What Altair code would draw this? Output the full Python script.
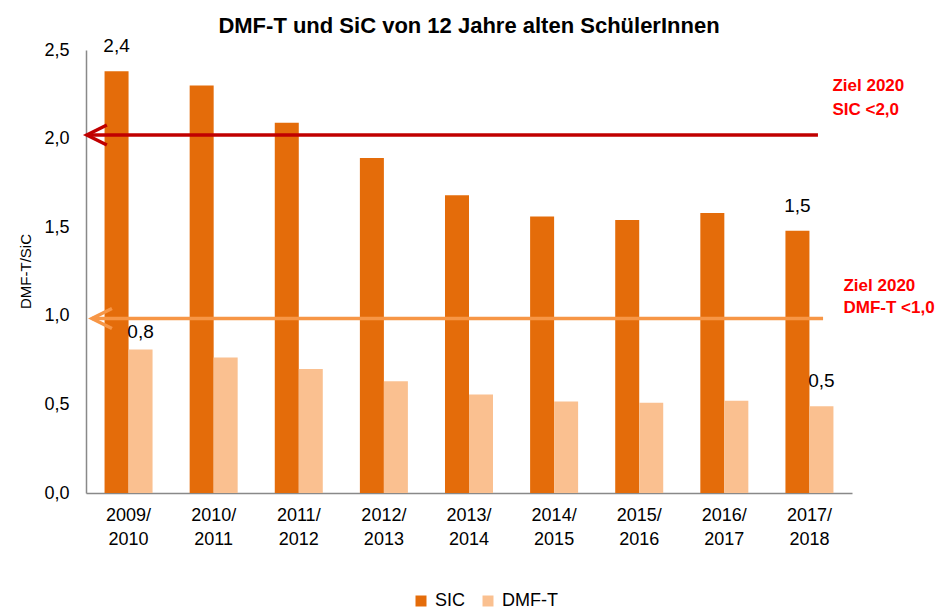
import altair as alt
import pandas as pd

years = ["2009/ 2010", "2010/ 2011", "2011/ 2012", "2012/ 2013", "2013/ 2014",
         "2014/ 2015", "2015/ 2016", "2016/ 2017", "2017/ 2018"]
sic = [2.38, 2.30, 2.09, 1.89, 1.68, 1.56, 1.54, 1.58, 1.48]
dmft = [0.81, 0.765, 0.70, 0.63, 0.556, 0.516, 0.51, 0.52, 0.49]
series_names = ["SIC", "DMF-T"]
colors = ["#E46C0A", "#FAC090"]

# value labels shown in the original
label_year = ["2009/ 2010", "2017/ 2018", "2017/ 2018"]
label_series = ["SIC", "SIC", "DMF-T"]
label_value = [2.38, 1.48, 0.49]
label_text = ["2,4", "1,5", "0,5"]
low_label_year = ["2009/ 2010"]
low_label_series = ["DMF-T"]
low_label_value = [0.81]
low_label_text = ["0,8"]

# goals (Ziel 2020)
goal_names = ["SIC", "DMF-T"]
goal_values = [2.02, 0.985]
goal_start = [0.01, 0.07]
goal_end = [8.60, 8.66]
goal_sic_text = "Ziel 2020\nSIC <2,0"
goal_dmft_text = "Ziel 2020\nDMF-T <1,0"
goal_text_x_sic = 8.77
goal_text_x_dmft = 8.90

FONT = "Liberation Sans, Arial, sans-serif"

rows = []
for y, a, b in zip(years, sic, dmft):
    rows.append({"year": y, "series": "SIC", "value": a})
    rows.append({"year": y, "series": "DMF-T", "value": b})
df = pd.DataFrame(rows)

xband = alt.X("year:N", sort=years, title=None,
              scale=alt.Scale(paddingInner=0.436, paddingOuter=0.218),
              axis=alt.Axis(labelExpr="split(datum.label, ' ')", labelAngle=0,
                            labelFontSize=18, labelFont=FONT, labelColor="#000",
                            labelLineHeight=24, labelPadding=13, ticks=False,
                            domainColor="#898989", domainWidth=1.5,
                            labelBaseline="top"))
yq = alt.Y("value:Q", title="DMF-T/SiC",
           scale=alt.Scale(domain=[0, 2.5], nice=False),
           axis=alt.Axis(values=[0, 0.5, 1, 1.5, 2, 2.5], format=".1f",
                         labelExpr="replace(datum.label, '.', ',')",
                         labelFontSize=18, labelFont=FONT, labelColor="#000",
                         labelPadding=17, ticks=False, grid=False,
                         domainColor="#898989", domainWidth=1.5,
                         titleFont=FONT, titleFontSize=15, titleFontWeight="normal",
                         titleColor="#000", titleAngle=-90, titleX=-61, titleY=221,
                         titleAlign="center", titleBaseline="middle"))
xoff = alt.XOffset("series:N", sort=series_names, scale=alt.Scale(paddingInner=0, paddingOuter=0))

bars = alt.Chart(df).mark_bar().encode(
    x=xband, xOffset=xoff, y=yq,
    color=alt.Color("series:N", sort=series_names,
                    scale=alt.Scale(domain=series_names, range=colors),
                    legend=alt.Legend(title=None, orient="none", legendX=326, legendY=542,
                                      direction="horizontal", symbolType="square",
                                      symbolSize=121, symbolStrokeWidth=0,
                                      labelFont=FONT, labelFontSize=18, labelColor="#000",
                                      labelOffset=5, columnPadding=13)))

lab_df = pd.DataFrame({"year": label_year, "series": label_series,
                       "value": label_value, "text": label_text})
labels = alt.Chart(lab_df).mark_text(font=FONT, fontSize=19, baseline="bottom", dy=-15,
                                     color="#000").encode(
    x=xband, xOffset=xoff, y=yq, text="text:N")
low_df = pd.DataFrame({"year": low_label_year, "series": low_label_series,
                       "value": low_label_value, "text": low_label_text})
low_labels = alt.Chart(low_df).mark_text(font=FONT, fontSize=19, baseline="bottom", dy=-7,
                                         color="#000").encode(
    x=xband, xOffset=xoff, y=yq, text="text:N")

bar_layer = alt.layer(bars, labels, low_labels)

xlin = alt.Scale(domain=[0, 9], nice=False, zero=False)
goal_df = pd.DataFrame({"goal": goal_names, "value": goal_values,
                        "x0": goal_start, "x1": goal_end})
goal_colors = alt.Scale(domain=goal_names, range=["#C00000", "#F79646"])

rules = alt.Chart(goal_df).mark_rule(strokeWidth=3.5).encode(
    x=alt.X("x0:Q", scale=xlin, axis=None), x2="x1:Q", y=yq,
    stroke=alt.Stroke("goal:N", scale=goal_colors, legend=None))
arrows = alt.Chart(goal_df).mark_point(
    shape="M1,-0.5L0,0L1,0.5", size=1600, filled=False, strokeWidth=3.5, opacity=1).encode(
    x=alt.X("x0:Q", scale=xlin, axis=None), y=yq,
    stroke=alt.Stroke("goal:N", scale=goal_colors, legend=None))

ann_sic = alt.Chart(pd.DataFrame({"x": [goal_text_x_sic], "value": [goal_values[0]],
                                  "t": [goal_sic_text]})).mark_text(
    font=FONT, fontSize=17, fontWeight="bold", color="#FF0000", align="left",
    baseline="middle", lineBreak="\n", lineHeight=24, dy=-49).encode(
    x=alt.X("x:Q", scale=xlin, axis=None), y=yq, text="t:N")
ann_dmft = alt.Chart(pd.DataFrame({"x": [goal_text_x_dmft], "value": [goal_values[1]],
                                   "t": [goal_dmft_text]})).mark_text(
    font=FONT, fontSize=17, fontWeight="bold", color="#FF0000", align="left",
    baseline="middle", lineBreak="\n", lineHeight=22, dy=-32).encode(
    x=alt.X("x:Q", scale=xlin, axis=None), y=yq, text="t:N")

goal_layer = alt.layer(rules, arrows, ann_sic, ann_dmft)

chart = alt.layer(bar_layer, goal_layer).resolve_scale(
    x="independent"
).properties(
    width=766, height=443, autosize="none",
    padding={"left": 78, "top": 42, "right": 86, "bottom": 116},
    title=alt.Title("DMF-T und SiC von 12 Jahre alten SchülerInnen", font=FONT,
                    fontSize=22, fontWeight="bold", color="#000", anchor="middle",
                    frame="group", offset=-1)
).configure_view(stroke=None).configure_axis(grid=False)

chart.save("out.html", embed_options={"renderer": "svg", "actions": False})
